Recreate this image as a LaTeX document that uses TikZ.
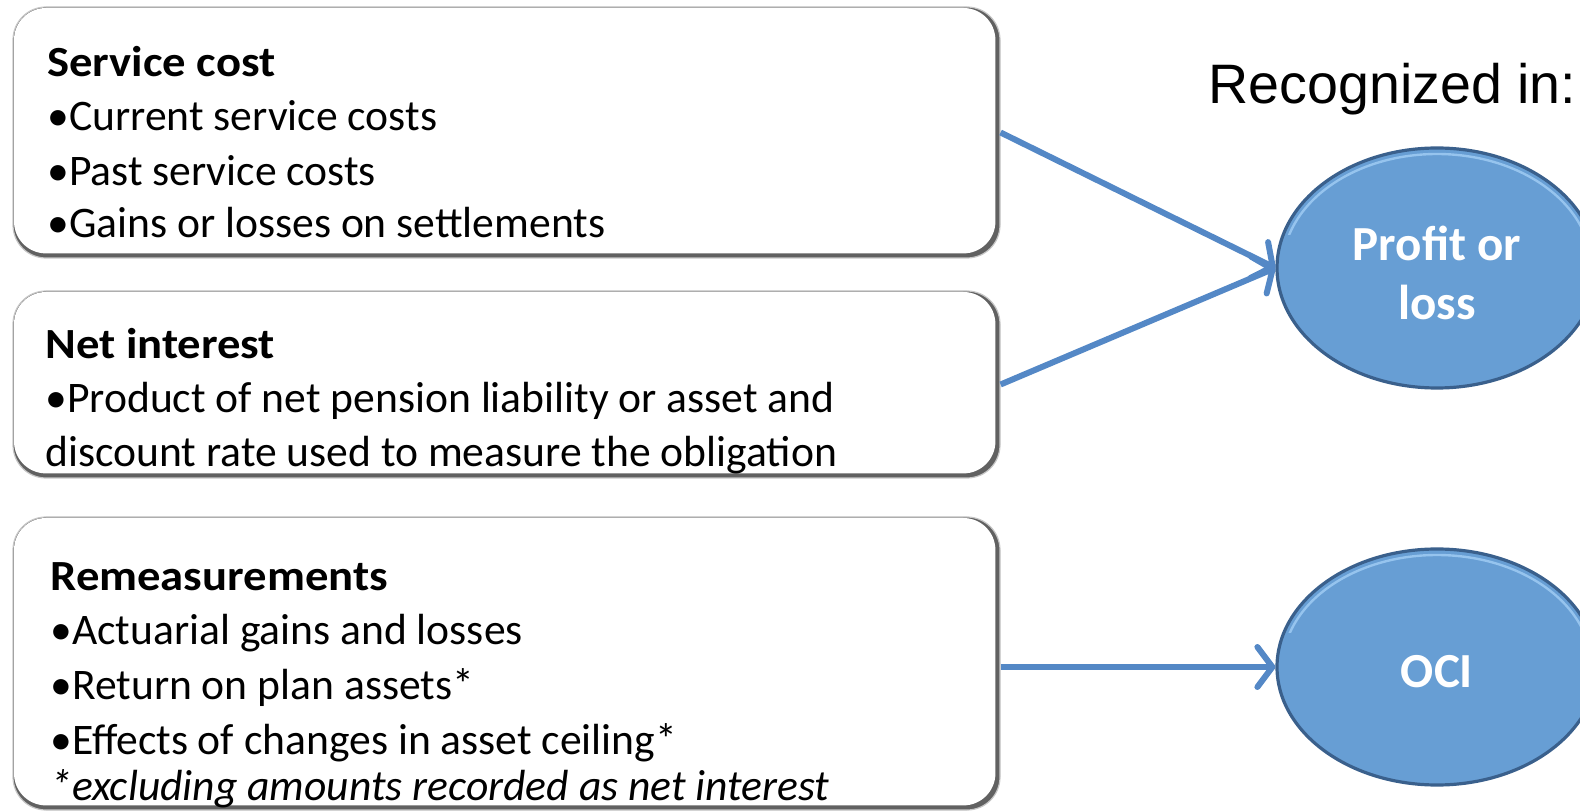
\documentclass[tikz,border=0pt]{standalone}
\usepackage{fontspec}
\setmainfont{Carlito}
\newfontfamily\arialfont{Liberation Sans}
\newfontfamily\titlefont[FakeStretch=1.085]{Carlito Bold}
\usetikzlibrary{shapes.geometric,arrows.meta}
\definecolor{arrowblue}{RGB}{84,136,198}
\definecolor{ovalfill}{RGB}{103,158,212}
\definecolor{ovalline}{RGB}{58,96,140}
\definecolor{ovalhi}{RGB}{150,196,238}
\tikzset{
  boxnode/.style={rectangle, rounded corners=16.5pt, fill=black!62, draw=black!22, line width=0.6pt, inner sep=0pt},
  ln/.style={anchor=base west, inner sep=0pt, font=\fontsize{21.8pt}{26pt}\selectfont},
  lnb/.style={anchor=base west, inner sep=0pt, font=\titlefont\fontsize{21.5pt}{26pt}\selectfont},
  oval/.style={ellipse, fill=ovalfill, draw=ovalline, line width=1.6pt, inner sep=0pt},
  ovaltext/.style={inner sep=0pt, text=white, align=center, font=\fontsize{24.5pt}{29.5pt}\selectfont\bfseries},
  conn/.style={draw=arrowblue, line width=3pt, -{Straight Barb[length=7.5pt,width=20pt,line cap=round,line join=round]}}
}
\begin{document}
\begin{tikzpicture}[x=0.5pt,y=-0.5pt]
\useasboundingbox (0,0) rectangle (1580,812);
\clip (0,0) rectangle (1580,812);
% boxes
\node[boxnode, minimum width=493.5pt, minimum height=125.5pt] (b1) at (506.5,132.5) {};
\node[boxnode, minimum width=493.5pt, minimum height=93.5pt] (b2) at (506.5,384.5) {};
\node[boxnode, minimum width=493.5pt, minimum height=146.5pt] (b3) at (506.5,663.5) {};
\foreach \b in {b1,b2,b3}{
  \fill[white, rounded corners=16pt] ([shift={(0.8pt,-0.8pt)}]\b.north west) rectangle ([shift={(-2.6pt,2.6pt)}]\b.south east);
}
% box 1 text
\node[lnb] (t1a) at (47,77) {Service cost};
\node[ln] (t1b) at (47,131) {•Current service costs};
\node[ln] (t1c) at (47,186) {•Past service costs};
\node[ln] (t1d) at (47,238) {•Gains or losses on settlements};
% box 2 text
\node[lnb] (t2a) at (45,359) {Net interest};
\node[ln] (t2b) at (45,413) {•Product of net pension liability or asset and};
\node[ln] (t2c) at (45,467) {discount rate used to measure the obligation};
% box 3 text
\node[lnb] (t3a) at (50,590) {Remeasurements};
\node[ln] (t3b) at (50,644) {•Actuarial gains and losses};
\node[ln] (t3c) at (50,699) {•Return on plan assets*};
\node[ln] (t3d) at (50,754) {•Effects of changes in asset ceiling*};
\node[ln, font=\fontsize{21.8pt}{26pt}\selectfont\itshape] (t3e) at (50,800) {*excluding amounts recorded as net interest};
% heading
\node[anchor=base west, inner sep=0pt, font=\arialfont\fontsize{27.8pt}{32pt}\selectfont] (rec) at (1208,104) {Recognized in:};
% ovals
\node[oval, minimum width=160pt, minimum height=120pt] (pl) at (1437,268) {};
\node[oval, minimum width=160pt, minimum height=118pt] (oci) at (1437,667) {};
\begin{scope}
  \clip (1270,140) rectangle (1580,235);
  \draw[ovalhi, line width=1.2pt] (1437,268) ellipse [x radius=154.5, y radius=114];
\end{scope}
\begin{scope}
  \clip (1270,540) rectangle (1580,632);
  \draw[ovalhi, line width=1.2pt] (1437,667) ellipse [x radius=154.5, y radius=112];
\end{scope}
\node[ovaltext] (plt) at ([yshift=-2.5pt]pl.center) {Profit or\\loss};
\node[ovaltext] (ocit) at ([yshift=-2.5pt]oci.center) {OCI};
% connectors
\draw[conn] (b1.east) -- (pl.west);
\draw[conn] (b2.east) -- (pl.west);
\draw[conn] (b3.east |- oci.west) -- (oci.west);
\end{tikzpicture}
\end{document}
